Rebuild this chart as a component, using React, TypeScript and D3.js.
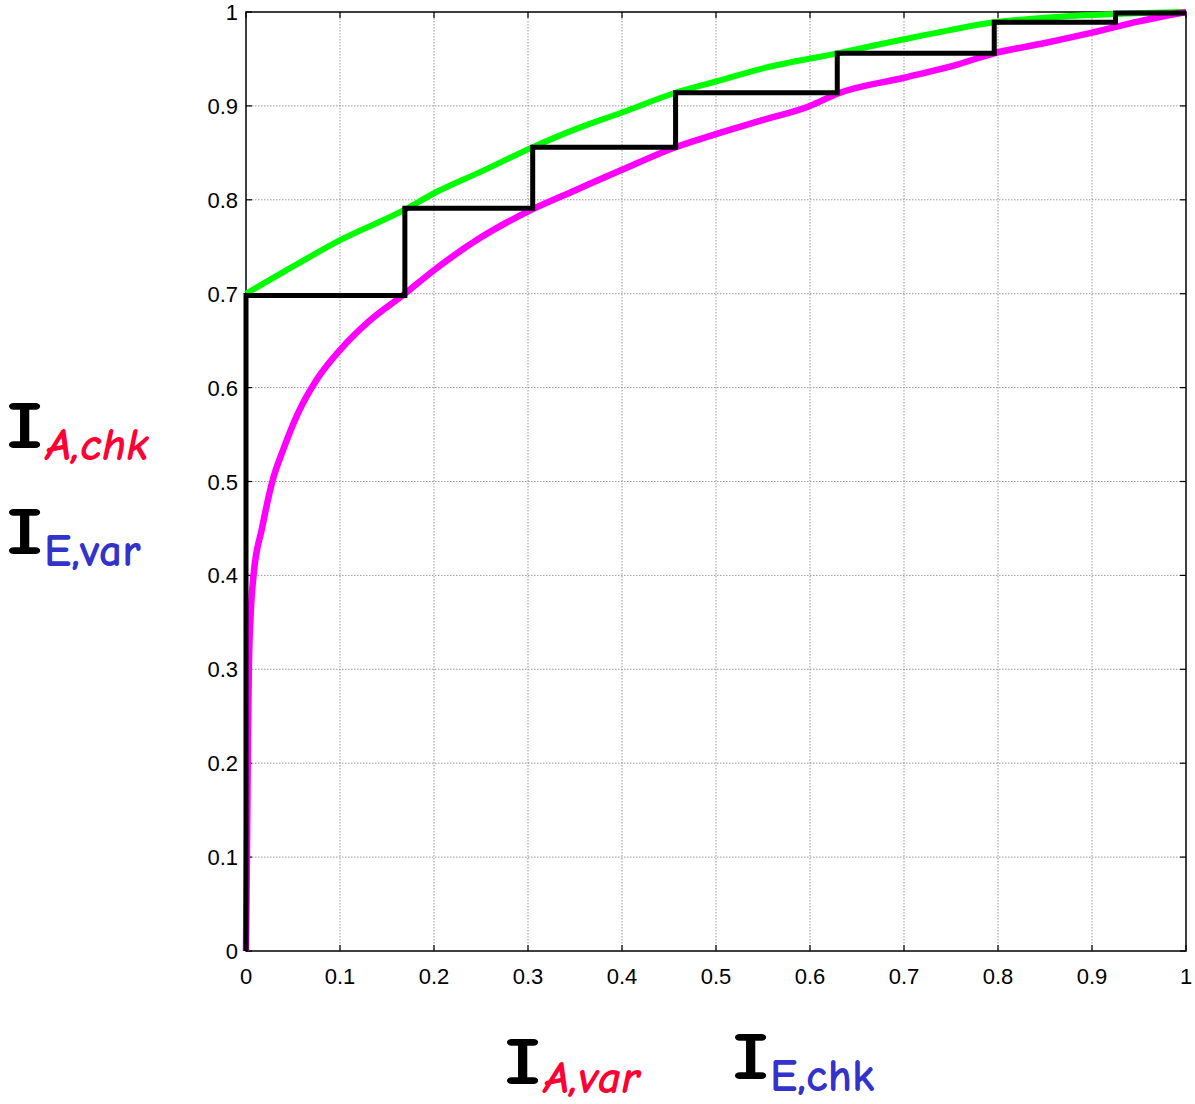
import React from "react";
import * as d3 from "d3";

const xTicks = [0, 0.1, 0.2, 0.3, 0.4, 0.5, 0.6, 0.7, 0.8, 0.9, 1];
const yTicks = [0, 0.1, 0.2, 0.3, 0.4, 0.5, 0.6, 0.7, 0.8, 0.9, 1];

const greenX = [0, 0.05, 0.1, 0.17, 0.2, 0.25, 0.305, 0.35, 0.4, 0.457, 0.5, 0.55, 0.629, 0.7, 0.75, 0.796, 0.85, 0.925, 1];
const greenY = [0.7, 0.729, 0.757, 0.79, 0.807, 0.83, 0.856, 0.875, 0.893, 0.914, 0.926, 0.94, 0.956, 0.971, 0.981, 0.989, 0.994, 0.998, 1];

const magX = [0, 0.001, 0.002, 0.003, 0.005, 0.008, 0.017, 0.028, 0.04, 0.055, 0.075, 0.1, 0.13, 0.169, 0.2, 0.25, 0.305, 0.35, 0.4, 0.457, 0.5, 0.55, 0.6, 0.629, 0.7, 0.75, 0.796, 0.85, 0.9, 0.95, 1];
const magY = [0, 0.1, 0.22, 0.3, 0.36, 0.4, 0.45, 0.5, 0.535, 0.572, 0.608, 0.64, 0.67, 0.7, 0.725, 0.76, 0.79, 0.81, 0.832, 0.856, 0.87, 0.885, 0.9, 0.913, 0.93, 0.942, 0.956, 0.967, 0.978, 0.99, 1];

const stepX = [0, 0, 0.169, 0.305, 0.457, 0.629, 0.796, 0.925, 1];
const stepY = [0, 0.698, 0.791, 0.856, 0.914, 0.956, 0.989, 0.999, 0.999];

const L = 246, R = 1186, T = 12, B = 951;

function BigI({ x, y }: { x: number; y: number }) {
  return (
    <text transform={`translate(${x},${y}) scale(1.4,1)`} x={0} y={0} fontSize={66} fill="#000">I</text>
  );
}

export default function App() {
  const x = d3.scaleLinear().domain([0, 1]).range([L, R]);
  const y = d3.scaleLinear().domain([0, 1]).range([B, T]);
  const line = d3.line<[number, number]>().x(d => x(d[0])).y(d => y(d[1])).curve(d3.curveMonotoneX);
  const stepLine = d3.line<[number, number]>().x(d => x(d[0])).y(d => y(d[1])).curve(d3.curveStepAfter);
  const green = greenX.map((v, i) => [v, greenY[i]] as [number, number]);
  const mag = magX.map((v, i) => [v, magY[i]] as [number, number]);
  const step = stepX.map((v, i) => [v, stepY[i]] as [number, number]);
  const comic = "'Comic Neue', 'Comic Sans MS', 'DejaVu Sans', sans-serif";
  const tickFont = "'Liberation Sans', Arial, sans-serif";
  return (
    <svg width={1195} height={1104} style={{ position: "absolute", left: 0, top: 0, background: "#fff" }}>
      <rect x={0} y={0} width={1195} height={1104} fill="#fff" />
      {xTicks.slice(1, -1).map(t => (
        <line key={"gx" + t} x1={x(t)} x2={x(t)} y1={T} y2={B} stroke="#9a9a9a" strokeWidth={1} strokeDasharray="1.5,1.5" />
      ))}
      {yTicks.slice(1, -1).map(t => (
        <line key={"gy" + t} x1={L} x2={R} y1={y(t)} y2={y(t)} stroke="#9a9a9a" strokeWidth={1} strokeDasharray="1.5,1.5" />
      ))}
      {xTicks.map(t => (
        <g key={"tx" + t}>
          <line x1={x(t)} x2={x(t)} y1={B} y2={B - 6} stroke="#000" strokeWidth={1.2} />
          <line x1={x(t)} x2={x(t)} y1={T} y2={T + 6} stroke="#000" strokeWidth={1.2} />
          <text x={x(t)} y={984} textAnchor="middle" fontFamily={tickFont} fontSize={22}>{t}</text>
        </g>
      ))}
      {yTicks.map(t => (
        <g key={"ty" + t}>
          <line x1={L} x2={L + 6} y1={y(t)} y2={y(t)} stroke="#000" strokeWidth={1.2} />
          <line x1={R} x2={R - 6} y1={y(t)} y2={y(t)} stroke="#000" strokeWidth={1.2} />
          <text x={238} y={y(t) + 8} textAnchor="end" fontFamily={tickFont} fontSize={22}>{t}</text>
        </g>
      ))}
      <rect x={L} y={T} width={R - L} height={B - T} fill="none" stroke="#000" strokeWidth={1.5} />
      <path d={line(green) || ""} fill="none" stroke="#00ff00" strokeWidth={6} strokeLinejoin="round" />
      <path d={line(mag) || ""} fill="none" stroke="#ff00ff" strokeWidth={6.5} strokeLinejoin="round" />
      <path d={stepLine(step) || ""} fill="none" stroke="#000" strokeWidth={5} />
      <g fontFamily={comic} fontWeight="bold">
        <BigI x={6} y={448} />
        <text x={46} y={460} fontSize={46} fill="#ff0033" fontStyle="italic">A,chk</text>
        <BigI x={6} y={554} />
        <text x={44} y={566} fontSize={46} fill="#3333cc">E,var</text>
        <BigI x={504} y={1084} />
        <text x={544} y={1093} fontSize={46} fill="#ff0033" fontStyle="italic">A,var</text>
        <BigI x={732} y={1079} />
        <text x={770} y={1091} fontSize={46} fill="#3333cc">E,chk</text>
      </g>
    </svg>
  );
}
